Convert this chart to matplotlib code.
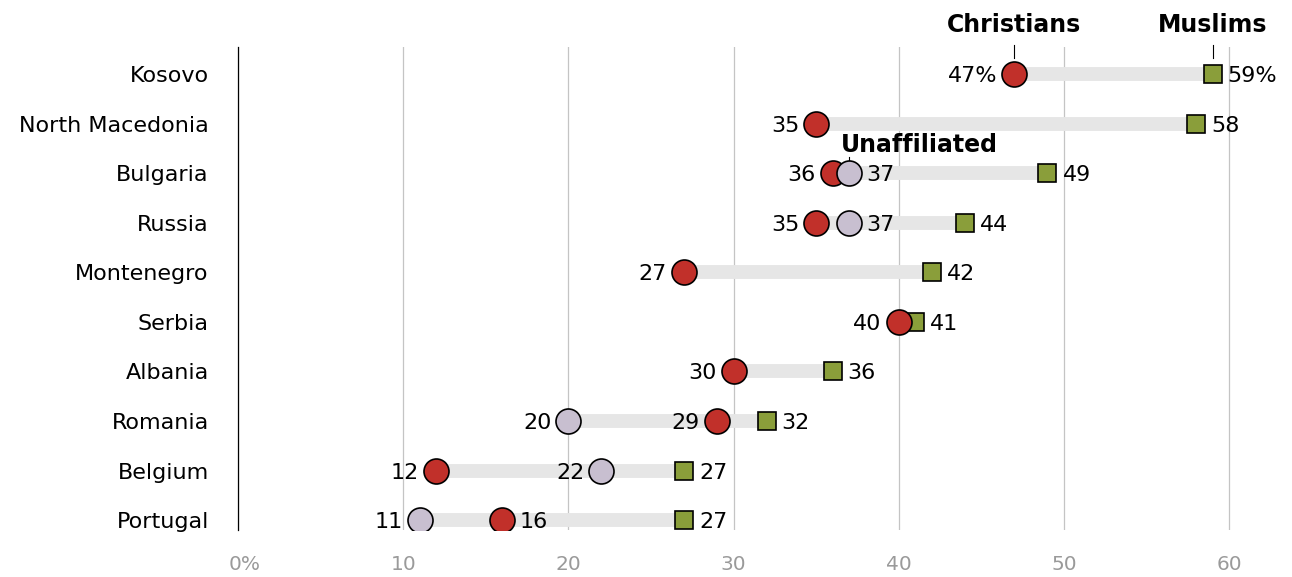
import matplotlib.pyplot as plt
import matplotlib.transforms as mtransforms

# data
countries = ["Kosovo", "North Macedonia", "Bulgaria", "Russia", "Montenegro",
             "Serbia", "Albania", "Romania", "Belgium", "Portugal"]
christians = [47, 35, 36, 35, 27, 40, 30, 29, 12, 16]
muslims = [59, 58, 49, 44, 42, 41, 36, 32, 27, 27]
unaffiliated = [None, None, 37, 37, None, None, None, 20, 22, 11]

# which side each number label goes on ("l" or "r")
chr_side = ["l", "l", "l", "l", "l", "l", "l", "l", "l", "r"]
unaff_side = [None, None, "r", "r", None, None, None, "l", "l", "l"]

xticks = [0, 10, 20, 30, 40, 50, 60]
xticklabels = ["0%", "10", "20", "30", "40", "50", "60"]

RED = "#c1302a"
LAV = "#c8bfd0"
OLIVE = "#8a9e3a"
BAR = "#e6e6e6"

plt.rcParams['font.family'] = ['DejaVu Sans']

fig = plt.figure(figsize=(12.92, 5.77), dpi=100)
ax = fig.add_axes([238 / 1292, 47 / 577, (1292 - 238) / 1292, (530 - 47) / 577])

ys = list(range(len(countries)))
NUM = 16

for y, c, m, u, cs, us in zip(ys, christians, muslims, unaffiliated, chr_side, unaff_side):
    vals = [v for v in (c, m, u) if v is not None]
    ax.plot([min(vals), max(vals)], [y, y], color=BAR, lw=10, solid_capstyle="butt", zorder=2)
    ax.plot(m, y, marker="s", ms=13.5, mfc=OLIVE, mec="black", mew=1.2, zorder=3)
    ax.plot(c, y, marker="o", ms=18, mfc=RED, mec="black", mew=1.2, zorder=4)
    if u is not None:
        ax.plot(u, y, marker="o", ms=18, mfc=LAV, mec="black", mew=1.2, zorder=5)

    pct = "%" if y == 0 else ""
    ax.annotate(f"{m}{pct}", (m, y), xytext=(15, 0), textcoords="offset pixels",
                ha="left", va="center_baseline", fontsize=NUM)
    off = -17 if cs == "l" else 17
    ax.annotate(f"{c}{pct}", (c, y), xytext=(off, 0), textcoords="offset pixels",
                ha="right" if cs == "l" else "left", va="center_baseline", fontsize=NUM)
    if u is not None:
        off = -17 if us == "l" else 17
        ax.annotate(f"{u}", (u, y), xytext=(off, 0), textcoords="offset pixels",
                    ha="right" if us == "l" else "left", va="center_baseline", fontsize=NUM)

# series headers
ax.annotate("Christians", (christians[0], 0), xytext=(0, 52), textcoords="offset pixels",
            ha="center", va="center_baseline", fontsize=17, fontweight="bold", annotation_clip=False)
ax.annotate("Muslims", (muslims[0], 0), xytext=(0, 52), textcoords="offset pixels",
            ha="center", va="center_baseline", fontsize=17, fontweight="bold", annotation_clip=False)
for x in (christians[0], muslims[0]):
    ax.plot([x, x], [-0.33, -0.6], color="black", lw=0.8, clip_on=False)
ax.annotate("Unaffiliated", (unaffiliated[2], 2), xytext=(-8, 31), textcoords="offset pixels",
            ha="left", va="center_baseline", fontsize=17, fontweight="bold", annotation_clip=False)
ax.plot([unaffiliated[2], unaffiliated[2]], [1.76, 1.68], color="black", lw=0.8, clip_on=False)

ax.set_xlim(0, (1292 - 238) / 16.52)
ax.set_ylim(9.2, -0.55)
ax.set_xticks(xticks)
ax.set_xticklabels(xticklabels, color="#9a9a9a", fontsize=14.5)
ax.set_yticks(ys)
ax.set_yticklabels(countries, fontsize=16)
ax.tick_params(length=0)
ax.tick_params(axis="x", pad=18)
ax.tick_params(axis="y", pad=21)
# let the "%" hang past the zero tick
first = ax.get_xticklabels()[0]
first.set_transform(first.get_transform() + mtransforms.ScaledTranslation(7 / 100, 0, fig.dpi_scale_trans))
ax.grid(axis="x", color="#c4c4c4", lw=0.9, zorder=0)
ax.set_axisbelow(True)
for s in ("top", "right", "bottom"):
    ax.spines[s].set_visible(False)
ax.spines["left"].set_linewidth(0.9)

fig.savefig("out.png", dpi=100)
